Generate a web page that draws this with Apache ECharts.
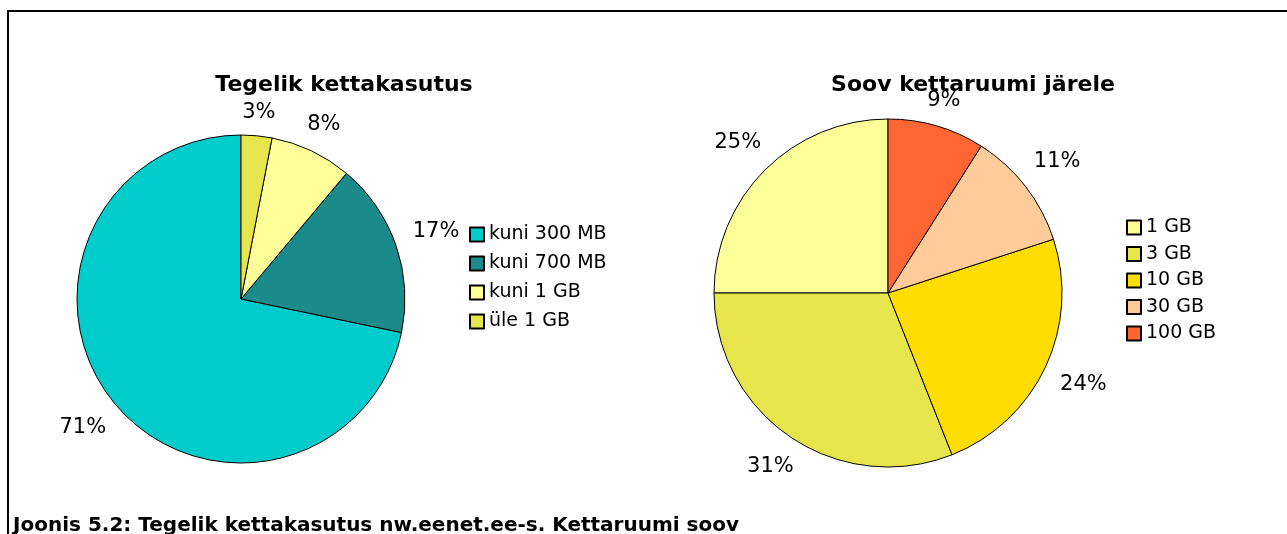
<!DOCTYPE html>
<html>
<head>
<meta charset="utf-8">
<script src="https://cdn.jsdelivr.net/npm/echarts@6/dist/echarts.min.js"></script>
<style>
  html, body { margin: 0; padding: 0; background: #fff; }
  #chart { width: 1287px; height: 534px; }
</style>
</head>
<body>
<div id="chart"></div>
<script>
// vasak: tegelik kettakasutus (%)
var usageNames = ['kuni 300 MB', 'kuni 700 MB', 'kuni 1 GB', 'üle 1 GB'];
var usageValues = [71, 17, 8, 3];
var usageColors = ['#00CCCC', '#1A8A8A', '#FFFF99', '#E6E64C'];

// parem: soov kettaruumi järele (%)
var wishNames = ['1 GB', '3 GB', '10 GB', '30 GB', '100 GB'];
var wishValues = [25, 31, 24, 11, 9];
var wishColors = ['#FFFF99', '#E6E64C', '#FFDD00', '#FFCC99', '#FF6633'];

var font = 'DejaVu Sans';

function toData(names, values, colors) {
  return names.map(function (n, i) {
    return { name: n, value: values[i], itemStyle: { color: colors[i] } };
  });
}

// silt lõigu keskjoonel, kasti serv väikese vahega ringist väljas
function labelPlacer(values, center, radius, gap) {
  var total = values.reduce(function (a, b) { return a + b; }, 0);
  return function (p) {
    var before = 0;
    for (var i = 0; i < p.dataIndex; i++) before += values[i];
    var t = (before + values[p.dataIndex] / 2) / total * Math.PI * 2;
    var ux = -Math.sin(t), uy = -Math.cos(t);
    var w = p.labelRect.width * 1.15, h = p.labelRect.height * 0.6;
    var d = radius + gap + Math.abs(ux) * w / 2 + Math.abs(uy) * h / 2;
    return { x: center[0] + ux * d, y: center[1] + uy * d, align: 'center', verticalAlign: 'middle' };
  };
}

function pieSeries(name, center, radius, names, values, colors) {
  return {
    name: name,
    type: 'pie',
    center: center,
    radius: radius,
    startAngle: 90,
    clockwise: false,
    animation: false,
    silent: true,
    itemStyle: { borderColor: '#000', borderWidth: 1 },
    label: {
      show: true,
      position: 'outside',
      formatter: '{c}%',
      fontFamily: font,
      fontSize: 21,
      color: '#000'
    },
    labelLine: { show: false },
    labelLayout: labelPlacer(values, center, radius, 15),
    emphasis: { disabled: true },
    data: toData(names, values, colors)
  };
}

var chart = echarts.init(document.getElementById('chart'));
chart.setOption({
  backgroundColor: '#fff',
  title: [
    { text: 'Tegelik kettakasutus', left: 339, top: 69, textAlign: 'center',
      textStyle: { fontFamily: font, fontSize: 22, fontWeight: 'bold', color: '#000' } },
    { text: 'Soov kettaruumi järele', left: 968, top: 69, textAlign: 'center',
      textStyle: { fontFamily: font, fontSize: 22, fontWeight: 'bold', color: '#000' } }
  ],
  legend: [
    { data: usageNames, orient: 'vertical', left: 464, top: 220,
      itemWidth: 14, itemHeight: 14, itemGap: 10, icon: 'rect',
      textStyle: { fontFamily: font, fontSize: 19, color: '#000' } },
    { data: wishNames, orient: 'vertical', left: 1121, top: 213,
      itemWidth: 14, itemHeight: 14, itemGap: 7.5, icon: 'rect',
      textStyle: { fontFamily: font, fontSize: 19, color: '#000' } }
  ],
  series: [
    pieSeries('Tegelik kettakasutus', [241, 299], 164, usageNames, usageValues, usageColors),
    pieSeries('Soov kettaruumi järele', [888, 293], 174, wishNames, wishValues, wishColors)
  ],
  graphic: [
    { type: 'polyline', shape: { points: [[8, 534], [8, 11], [1287, 11]] },
      style: { stroke: '#000', lineWidth: 2, fill: null } },
    { type: 'text', left: 13, top: 516,
      style: { text: 'Joonis 5.2: Tegelik kettakasutus nw.eenet.ee-s. Kettaruumi soov',
        font: 'bold 20px "DejaVu Sans"', fill: '#000' } }
  ]
});
</script>
</body>
</html>
